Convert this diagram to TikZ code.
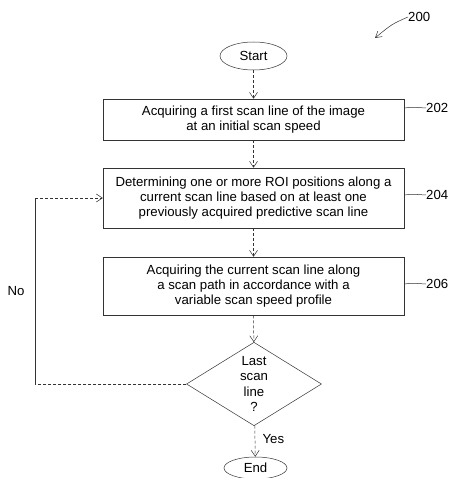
\documentclass[tikz,border=0pt]{standalone}
\usepackage{fontspec}
\setmainfont{Liberation Sans}
\usepackage{tikz}
\usetikzlibrary{arrows.meta,shapes.geometric}
\tikzset{
	stepbox/.style={draw=black!80,line width=0.5pt,rectangle,minimum width=301pt,inner sep=0pt,align=center,font=\fontsize{13.2}{15}\selectfont},
	terminal/.style={draw=black!80,line width=0.5pt,ellipse,inner sep=0pt,font=\fontsize{13.2}{15}\selectfont},
	decision/.style={draw=black!80,line width=0.5pt,diamond,minimum width=135pt,minimum height=82pt,inner sep=0pt,align=center,font=\fontsize{13.2}{15.5}\selectfont},
	flow/.style={draw=black!80,line width=0.5pt,densely dashed,-{Straight Barb[length=6pt,width=8pt,line width=0.5pt]}},
	leader/.style={draw=black!80,line width=0.5pt},
	refnum/.style={font=\fontsize{13.2}{15}\selectfont,anchor=west,inner sep=0pt},
}
\begin{document}
\begin{tikzpicture}[x=1pt,y=-1pt]
			% fix the page to the reference size
			\useasboundingbox (0,0) rectangle (453,478);
			
			% terminals and steps
			\node[terminal,minimum width=67pt,minimum height=28pt] (start) at (253.5,56) {Start};
			\node[stepbox,minimum height=41pt] (acquirefirst) at (253.5,119.5) {Acquiring a first scan line of the image\\at an initial scan speed};
			\node[stepbox,minimum height=60pt] (roipos) at (253.5,198) {Determining one or more ROI positions along a\\current scan line based on at least one\\previously acquired predictive scan line};
			\node[stepbox,minimum height=58pt] (acquirecur) at (253.5,286) {Acquiring the current scan line along\\a scan path in accordance with a\\variable scan speed profile};
			\node[decision] (lastline) at (254,384) {Last\\scan\\line\\?};
			\node[terminal,minimum width=63pt,minimum height=22pt] (finish) at (255.5,468) {End};
			
			% connectors
			\draw[flow] (start) -- (acquirefirst);
			\draw[flow] (acquirefirst) -- (roipos);
			\draw[flow] (roipos) -- (acquirecur);
			\draw[flow] (acquirecur) -- (lastline);
			\draw[flow] (lastline) -- node[right,xshift=4pt,yshift=2pt,font=\fontsize{13.2}{15}\selectfont] {Yes} (finish);
			
			% loop back when not the last line
			\coordinate (loopbottom) at (35,384);
			\coordinate (looptop) at (35,198);
			\draw[leader,densely dashed] (lastline.west) -- (loopbottom);
			\draw[leader] (loopbottom) -- node[left,xshift=-7pt,font=\fontsize{13.2}{15}\selectfont] {No} (looptop);
			\draw[flow] (looptop) -- (roipos.west);
			
			% reference numerals
			\node[refnum] (n202) at (426,108) {202};
			\node[refnum] (n204) at (426,195) {204};
			\node[refnum] (n206) at (426,284) {206};
			\draw[leader] (acquirefirst.east |- n202) .. controls (410,107) .. (n202.west);
			\draw[leader] (roipos.east |- n204) .. controls (410,194) .. (n204.west);
			\draw[leader] (acquirecur.east |- n206) .. controls (410,283) .. (n206.west);
			\node[refnum] (n200) at (408,17) {200};
			\coordinate (arrow200) at (375,38);
			\draw[leader,-{Straight Barb[length=6pt,width=7pt,line width=0.5pt]}] (n200.west) .. controls (392,24) .. (arrow200);
			
\end{tikzpicture}
\end{document}
